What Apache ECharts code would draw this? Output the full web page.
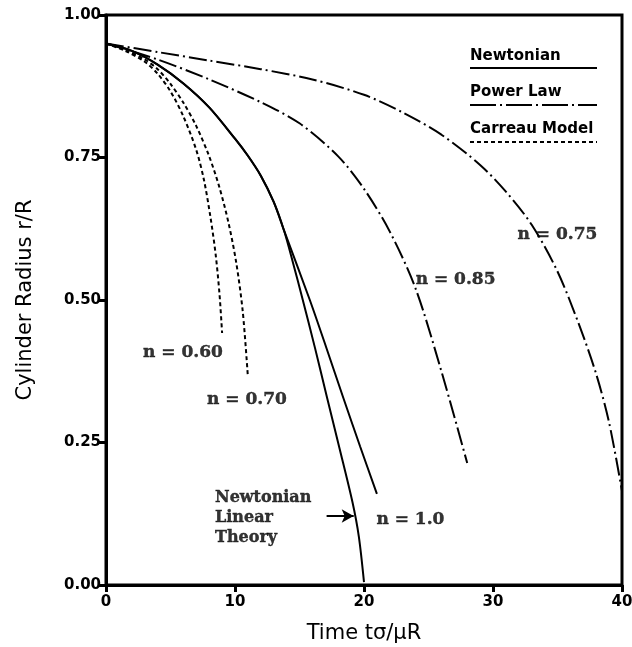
<!DOCTYPE html>
<html>
<head>
<meta charset="utf-8">
<script src="https://cdn.jsdelivr.net/npm/echarts@6/dist/echarts.min.js"></script>
<style>html,body{margin:0;padding:0;background:#fff;}#c{width:632px;height:647px;}</style>
</head>
<body>
<div id="c"></div>
<script>
// ---- data ----
const xTicks = [0, 10, 20, 30, 40];
const yTicks = [0.00, 0.25, 0.50, 0.75, 1.00];

const newtonianN10 = [[0,0.95],[2,0.937],[4,0.913],[6,0.880],[8,0.838],[10,0.783],[11,0.753],[12,0.718],[13,0.672],[13.8,0.622],[15.8,0.500],[17.1,0.415],[18.4,0.328],[19.7,0.243],[21,0.160]];
const linearTheory = [[0,0.95],[2,0.937],[4,0.913],[6,0.880],[8,0.838],[10,0.783],[11,0.753],[12,0.718],[13,0.672],[13.8,0.622],[14.5,0.565],[15.2,0.505],[16.2,0.416],[17.1,0.332],[18.1,0.240],[19.1,0.146],[19.6,0.085],[20,0.005]];
const powerN085 = [[0,0.95],[4,0.922],[8,0.887],[12,0.847],[15,0.810],[18,0.752],[20,0.695],[22,0.620],[24,0.520],[26,0.375],[28,0.214]];
const powerN075 = [[0,0.95],[4,0.935],[8,0.920],[12,0.905],[16,0.887],[20,0.860],[23,0.829],[26,0.790],[29,0.737],[31,0.690],[33,0.632],[35,0.550],[36.7,0.455],[38,0.370],[39,0.285],[40,0.165]];
const carreauN060 = [[0,0.95],[1.5,0.937],[3,0.918],[4,0.897],[5,0.866],[6,0.822],[7,0.763],[7.6,0.710],[8.1,0.645],[8.5,0.580],[8.8,0.510],[9,0.442]];
const carreauN070 = [[0,0.95],[1.5,0.939],[3,0.922],[4,0.905],[5,0.879],[6,0.846],[7,0.805],[8,0.752],[8.8,0.697],[9.5,0.635],[10.1,0.565],[10.6,0.480],[11,0.365]];

const curveLabels = ['n = 0.60', 'n = 0.70', 'n = 0.85', 'n = 0.75', 'n = 1.0'];
const curveLabelPos = [[5.97,0.407],[10.93,0.325],[27.1,0.535],[35.0,0.614],[23.6,0.114]];
const theoryLabel = 'Newtonian\nLinear\nTheory';
const theoryLabelPos = [8.45, 0.118];
const arrowFrom = [17.1, 0.121];
const arrowTo = [19.2, 0.121];

const legendNames = ['Newtonian', 'Power Law', 'Carreau Model'];

// ---- chart ----
const chart = echarts.init(document.getElementById('c'), null, {renderer: 'canvas'});
const dashDot = [18, 4, 2, 4];
const dashed = [4, 3];

const labelData = curveLabels.map((t, i) => ({value: curveLabelPos[i], name: t}));

const legendLineY = [68, 105, 142];
const legendTextY = [58, 94, 131];
const legendStyles = [
  {lineDash: null},
  {lineDash: [26, 4, 2, 4]},
  {lineDash: [4, 3]}
];
const graphics = [];
legendNames.forEach((n, i) => {
  graphics.push({type: 'text', left: 470, top: legendTextY[i] - 9,
    style: {text: n, font: 'bold 15px "DejaVu Sans"', fill: '#000'}});
  graphics.push({type: 'line', shape: {x1: 470, y1: legendLineY[i], x2: 597, y2: legendLineY[i]},
    style: {stroke: '#000', lineWidth: 2, lineDash: legendStyles[i].lineDash}});
});

const lineCommon = {showSymbol: false, smooth: 0.3};

chart.setOption({
  animation: false,
  backgroundColor: '#fff',
  grid: {left: 106, right: 10, top: 15, bottom: 62, outerBoundsMode: 'none', containLabel: false,
    show: true, borderColor: '#000', borderWidth: 3, backgroundColor: 'transparent'},
  xAxis: {
    type: 'value', min: xTicks[0], max: xTicks[xTicks.length-1], interval: 10,
    name: 'Time tσ/μR', nameLocation: 'middle', nameGap: 38,
    nameTextStyle: {fontFamily: 'DejaVu Sans', fontSize: 21, color: '#000'},
    axisLine: {show: true, lineStyle: {color: '#000', width: 3}},
    axisTick: {show: true, length: 7, lineStyle: {color: '#000', width: 3}},
    axisLabel: {fontFamily: 'DejaVu Sans', fontWeight: 'bold', fontSize: 15, color: '#000', margin: 10},
    splitLine: {show: false}
  },
  yAxis: {
    type: 'value', min: yTicks[0], max: yTicks[yTicks.length-1], interval: 0.25,
    name: 'Cylinder Radius r/R', nameLocation: 'middle', nameGap: 70,
    nameTextStyle: {fontFamily: 'DejaVu Sans', fontSize: 21, color: '#000'},
    axisLine: {show: true, lineStyle: {color: '#000', width: 3}},
    axisTick: {show: true, length: 8, lineStyle: {color: '#000', width: 3}},
    axisLabel: {fontFamily: 'DejaVu Sans', fontWeight: 'bold', fontSize: 15, color: '#000', margin: 5,
      formatter: v => v.toFixed(2)},
    splitLine: {show: false}
  },
  graphic: graphics,
  series: [
    Object.assign({type: 'line', name: 'Newtonian n=1.0', data: newtonianN10,
      lineStyle: {color: '#000', width: 2}}, lineCommon),
    Object.assign({type: 'line', name: 'Newtonian Linear Theory', data: linearTheory,
      lineStyle: {color: '#000', width: 2},
      markLine: {silent: true, symbol: ['none', 'arrow'], symbolSize: [10, 12], label: {show: false},
        lineStyle: {color: '#000', type: 'solid', width: 2},
        data: [[{coord: arrowFrom}, {coord: arrowTo}]]}}, lineCommon),
    Object.assign({type: 'line', name: 'Power Law n=0.85', data: powerN085,
      lineStyle: {color: '#000', width: 2, type: dashDot}}, lineCommon),
    Object.assign({type: 'line', name: 'Power Law n=0.75', data: powerN075,
      lineStyle: {color: '#000', width: 2, type: dashDot}}, lineCommon),
    Object.assign({type: 'line', name: 'Carreau n=0.60', data: carreauN060,
      lineStyle: {color: '#000', width: 2, type: dashed}}, lineCommon),
    Object.assign({type: 'line', name: 'Carreau n=0.70', data: carreauN070,
      lineStyle: {color: '#000', width: 2, type: dashed}}, lineCommon),
    {type: 'scatter', name: 'labels', data: labelData, symbolSize: 0, silent: true,
      label: {show: true, position: 'inside', formatter: p => p.name, textBorderColor: '#000', textBorderWidth: 0.4,
        fontFamily: 'DejaVu Serif', fontWeight: 'bold', fontSize: 17, color: '#000'}},
    {type: 'scatter', name: 'theoryLabel', data: [{value: theoryLabelPos, name: theoryLabel}], symbolSize: 0, silent: true,
      label: {show: true, position: 'right', distance: 0, formatter: p => p.name, align: 'left', textBorderColor: '#000', textBorderWidth: 0.4,
        fontFamily: 'DejaVu Serif', fontWeight: 'bold', fontSize: 16, lineHeight: 20, color: '#000'}}
  ]
});
</script>
</body>
</html>
